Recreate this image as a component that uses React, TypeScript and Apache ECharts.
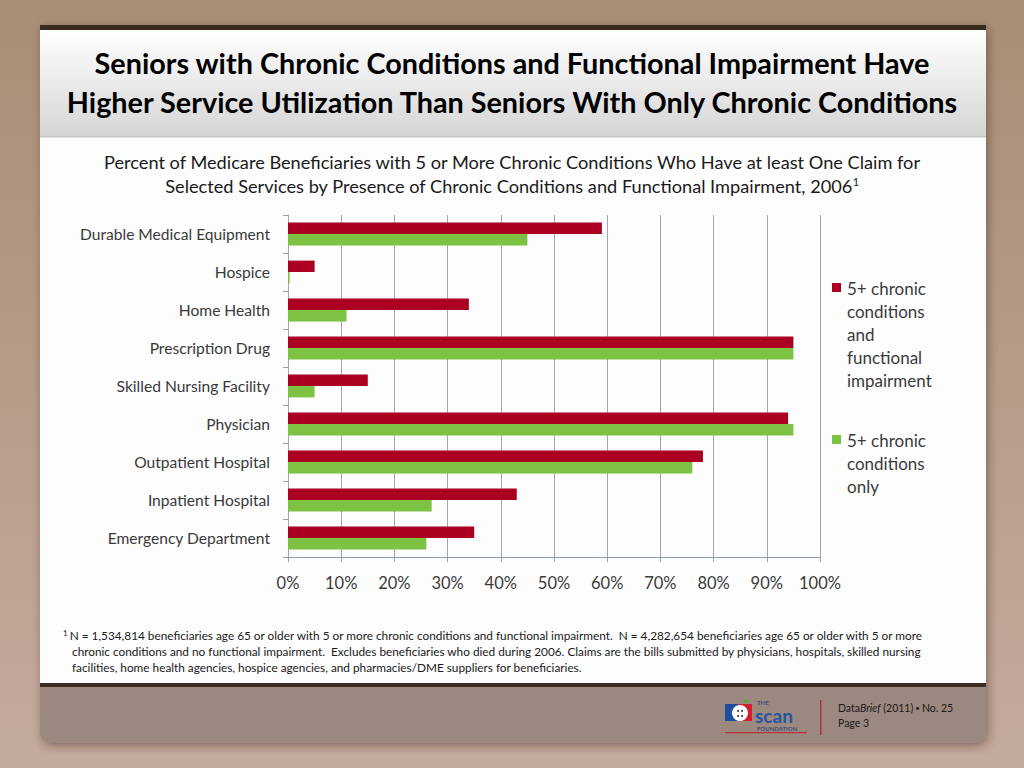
import React, { useEffect, useRef } from "react";
import * as echarts from "echarts";

const categories = [
  "Durable Medical Equipment",
  "Hospice",
  "Home Health",
  "Prescription Drug",
  "Skilled Nursing Facility",
  "Physician",
  "Outpatient Hospital",
  "Inpatient Hospital",
  "Emergency Department",
];
const impairmentValues = [59, 5, 34, 95, 15, 94, 78, 43, 35];
const chronicOnlyValues = [45, 0.3, 11, 95, 5, 95, 76, 27, 26];
const seriesNames = [
  "5+ chronic conditions and functional impairment",
  "5+ chronic conditions only",
];
const legendLines = [
  ["5+ chronic", "conditions", "and", "functional", "impairment"],
  ["5+ chronic", "conditions", "only"],
];
const titleLines = [
  "Seniors with Chronic Conditions and Functional Impairment Have",
  "Higher Service Utilization Than Seniors With Only Chronic Conditions",
];
const subtitleLines = [
  "Percent of Medicare Beneficiaries with 5 or More Chronic Conditions Who Have at least One Claim for",
  "Selected Services by Presence of Chronic Conditions and Functional Impairment, 2006",
];
const footnoteLines = [
  "N = 1,534,814 beneficiaries age 65 or older with 5 or more chronic conditions and functional impairment.  N = 4,282,654 beneficiaries age 65 or older with 5 or more",
  "chronic conditions and no functional impairment.  Excludes beneficiaries who died during 2006. Claims are the bills submitted by physicians, hospitals, skilled nursing",
  "facilities, home health agencies, hospice agencies, and pharmacies/DME suppliers for beneficiaries.",
];

const RED = "#ac0022";
const GREEN = "#7dc242";
const FONT = "Lato, 'Open Sans', sans-serif";

export default function App() {
  const ref = useRef<HTMLDivElement>(null);
  useEffect(() => {
    document.body.style.margin = "0";
    if (!ref.current) return;
    const chart = echarts.init(ref.current, null, { renderer: "svg" });

    const graphics: any[] = [
      {
        type: "rect",
        z: -10,
        silent: true,
        shape: { x: 0, y: 0, width: 1024, height: 768 },
        style: {
          fill: new echarts.graphic.LinearGradient(0, 0, 0, 1, [
            { offset: 0, color: "#a88e76" },
            { offset: 1, color: "#c3ab9e" },
          ]),
        },
      },
      {
        type: "rect",
        z: -9,
        silent: true,
        shape: { x: 40, y: 25, width: 946, height: 718, r: [0, 0, 10, 10] },
        style: {
          fill: "#9b887e",
          shadowBlur: 10,
          shadowColor: "rgba(60,40,30,0.45)",
          shadowOffsetX: 2,
          shadowOffsetY: 3,
        },
      },
      {
        type: "rect",
        z: -8,
        silent: true,
        shape: { x: 40, y: 25, width: 946, height: 5 },
        style: { fill: "#3b2b1f" },
      },
      {
        type: "rect",
        z: -8,
        silent: true,
        shape: { x: 40, y: 30, width: 946, height: 653 },
        style: { fill: "#fdfdfd" },
      },
      {
        type: "rect",
        z: -7,
        silent: true,
        shape: { x: 40, y: 30, width: 946, height: 107 },
        style: {
          fill: new echarts.graphic.LinearGradient(0, 0, 0, 1, [
            { offset: 0, color: "#ffffff" },
            { offset: 1, color: "#d5d5d5" },
          ]),
        },
      },
      {
        type: "rect",
        z: -7,
        silent: true,
        shape: { x: 40, y: 136, width: 946, height: 1.5 },
        style: { fill: "#c4c4c4" },
      },
      {
        type: "rect",
        z: -7,
        silent: true,
        shape: { x: 40, y: 683, width: 946, height: 4 },
        style: { fill: "#3e2e23" },
      },
    ];

    titleLines.forEach((t, i) => {
      graphics.push({
        type: "text",
        x: 512,
        y: 63 + i * 39,
        style: {
          text: t,
          fill: "#000",
          font: `bold 28.8px ${FONT}`,
          align: "center",
          verticalAlign: "middle",
        },
      });
    });

    graphics.push({
      type: "text",
      x: 512,
      y: 162,
      style: {
        text: subtitleLines[0],
        fill: "#1a1a1a",
        font: `18.2px ${FONT}`,
        align: "center",
        verticalAlign: "middle",
      },
    });
    graphics.push({
      type: "text",
      x: 512,
      y: 186,
      style: {
        text: `{n|${subtitleLines[1]}}{s|1}`,
        align: "center",
        verticalAlign: "middle",
        rich: {
          n: { fill: "#1a1a1a", font: `18.2px ${FONT}` },
          s: { fill: "#1a1a1a", font: `11px ${FONT}`, verticalAlign: "top", padding: [0, 0, 9, 0] },
        },
      },
    });

    const legendTops = [288, 440];
    legendLines.forEach((lines, i) => {
      graphics.push({
        type: "rect",
        shape: { x: 832, y: legendTops[i] - 5, width: 9, height: 9 },
        style: { fill: i === 0 ? RED : GREEN },
      });
      lines.forEach((l, j) => {
        graphics.push({
          type: "text",
          x: 847,
          y: legendTops[i] + j * 23,
          style: {
            text: l,
            fill: "#3a3a3a",
            font: `17px ${FONT}`,
            align: "left",
            verticalAlign: "middle",
          },
        });
      });
    });

    footnoteLines.forEach((l, i) => {
      if (i === 0) {
        graphics.push({
          type: "text",
          x: 63,
          y: 635,
          style: {
            text: `{s|1 }{n|${l}}`,
            verticalAlign: "middle",
            rich: {
              n: { fill: "#1a1a1a", font: `11.8px ${FONT}` },
              s: { fill: "#1a1a1a", font: `8px ${FONT}`, padding: [0, 0, 5, 0] },
            },
          },
        });
      } else {
        graphics.push({
          type: "text",
          x: 72,
          y: 635 + i * 16,
          style: {
            text: l,
            fill: "#1a1a1a",
            font: `11.8px ${FONT}`,
            verticalAlign: "middle",
          },
        });
      }
    });

    graphics.push({
      type: "group",
      silent: true,
      children: [
        { type: "rect", shape: { x: 725, y: 704, width: 13, height: 17 }, style: { fill: "#1f4e9c" } },
        { type: "rect", shape: { x: 738, y: 704, width: 14, height: 17 }, style: { fill: "#d21f2b" } },
        { type: "circle", shape: { cx: 740, cy: 713, r: 8 }, style: { fill: "#ffffff" } },
        { type: "ellipse", shape: { cx: 746, cy: 701, rx: 3, ry: 1.6 }, style: { fill: "#5fa83a" } },
        { type: "circle", shape: { cx: 738, cy: 711, r: 1 }, style: { fill: "#333" } },
        { type: "circle", shape: { cx: 742, cy: 711, r: 1 }, style: { fill: "#333" } },
        { type: "circle", shape: { cx: 738, cy: 716, r: 1 }, style: { fill: "#333" } },
        { type: "circle", shape: { cx: 742, cy: 716, r: 1 }, style: { fill: "#333" } },
        {
          type: "text",
          x: 757,
          y: 702,
          style: { text: "THE", fill: "#3c4f7a", font: `bold 6px ${FONT}`, lineHeight: 6, verticalAlign: "middle" },
        },
        {
          type: "text",
          x: 755,
          y: 715,
          style: { text: "scan", fill: "#2456a4", font: `bold 19px ${FONT}`, lineHeight: 12, verticalAlign: "middle" },
        },
        {
          type: "text",
          x: 757,
          y: 728,
          style: { text: "FOUNDATION", fill: "#3c4f7a", font: `bold 6px ${FONT}`, lineHeight: 6, verticalAlign: "middle" },
        },
        { type: "rect", shape: { x: 725, y: 732, width: 82, height: 1.2 }, style: { fill: "#b2343a" } },
        { type: "rect", shape: { x: 820, y: 700, width: 1.5, height: 35 }, style: { fill: "#b3323a" } },
      ],
    });
    graphics.push({
      type: "text",
      x: 838,
      y: 708,
      style: {
        text: "{n|Data}{i|Brief}{n| (2011)}{d| • }{n|No. 25}",
        verticalAlign: "middle",
        rich: {
          n: { fill: "#1a1a1a", font: `10.5px ${FONT}` },
          i: { fill: "#1a1a1a", font: `italic 10.5px ${FONT}` },
          d: { fill: "#1a1a1a", font: `8px ${FONT}` },
        },
      },
    });
    graphics.push({
      type: "text",
      x: 838,
      y: 723,
      style: { text: "Page 3", fill: "#1a1a1a", font: `10.5px ${FONT}`, verticalAlign: "middle" },
    });

    chart.setOption({
      animation: false,
      graphic: graphics,
      grid: { left: 288, right: 204, top: 215, bottom: 211, containLabel: false },
      xAxis: {
        type: "value",
        min: 0,
        max: 100,
        interval: 10,
        axisLabel: {
          formatter: "{value}%",
          color: "#3a3a3a",
          fontFamily: FONT,
          fontSize: 16.5,
          margin: 17,
        },
        axisLine: { show: true, lineStyle: { color: "#8d98bd", width: 1 } },
        axisTick: { show: true, length: 5, lineStyle: { color: "#a0a0a0" } },
        splitLine: { show: true, lineStyle: { color: "#a6a6a6", width: 1 } },
      },
      yAxis: {
        type: "category",
        inverse: true,
        data: categories,
        axisLabel: {
          color: "#3a3a3a",
          fontFamily: FONT,
          fontSize: 15.6,
          margin: 18,
        },
        axisLine: { show: true, lineStyle: { color: "#a6a6a6" } },
        axisTick: { show: true, length: 5, lineStyle: { color: "#a0a0a0" } },
      },
      series: [
        {
          name: seriesNames[0],
          type: "bar",
          data: impairmentValues,
          itemStyle: { color: RED },
          barGap: "0%",
          barCategoryGap: "40%",
        },
        {
          name: seriesNames[1],
          type: "bar",
          data: chronicOnlyValues,
          itemStyle: { color: GREEN },
          barGap: "0%",
          barCategoryGap: "40%",
        },
      ],
    });
    return () => chart.dispose();
  }, []);
  return <div ref={ref} style={{ width: 1024, height: 768 }} />;
}
